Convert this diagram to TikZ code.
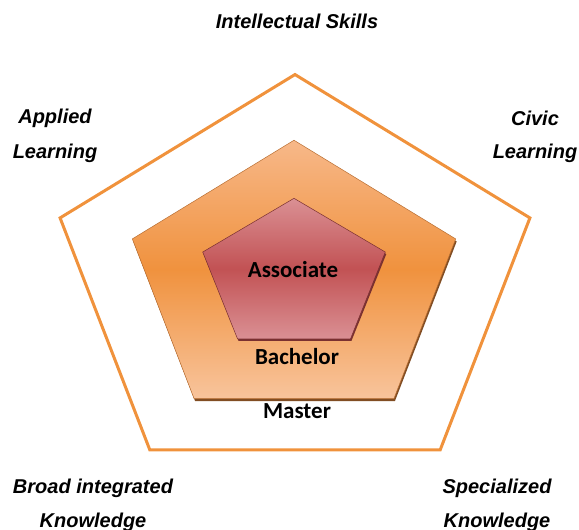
\documentclass[tikz,border=0pt]{standalone}
\usepackage{fontspec}
\newfontfamily\areafont{Liberation Sans}
\newfontfamily\levelfont{Carlito}
\usepackage{tikz}

\definecolor{rimorange}{HTML}{F0923C}
\definecolor{midlight}{HTML}{F7B889}
\definecolor{midorange}{HTML}{F0923E}
\definecolor{midpale}{HTML}{F8C49C}
\definecolor{midedge}{HTML}{B86E32}
\definecolor{innerlight}{HTML}{DA9094}
\definecolor{innerred}{HTML}{C25254}
\definecolor{inneredge}{HTML}{7A3030}

\begin{document}
\begin{tikzpicture}[x=1pt,y=1pt,
    area/.style={font=\areafont\bfseries\itshape\fontsize{20}{20}\selectfont},
    level/.style={font=\levelfont\bfseries\fontsize{23}{23}\selectfont}]
\useasboundingbox (0,0) rectangle (579,530);
% outer pentagon
 \draw[rimorange, line width=3pt, line join=miter, yscale=0.84]  
        (295,295.2) ++(90:247) -- ++(-144:247*1.1756) -- ++(-72:247*1.1756)
        -- ++(0:247*1.1756) -- ++(72:247*1.1756) -- cycle;
% middle pentagon, shadow then fill
 \fill[midedge!70!black, yscale=0.84]  
        (295,291) ++(90:170) -- ++(-144:170*1.1756) -- ++(-72:170*1.1756)
        -- ++(0:170*1.1756) -- ++(72:170*1.1756) -- cycle;
 \shade[top color=midlight, bottom color=midpale, middle color=midorange,
        draw=midedge, line width=0.5pt, yscale=0.84]  
        (294,294) ++(90:170) -- ++(-144:170*1.1756) -- ++(-72:170*1.1756)
        -- ++(0:170*1.1756) -- ++(72:170*1.1756) -- cycle;
% inner pentagon
 \fill[inneredge, yscale=0.81]  
        (295,311) ++(90:96) -- ++(-144:96*1.1756) -- ++(-72:96*1.1756)
        -- ++(0:96*1.1756) -- ++(72:96*1.1756) -- cycle;
 \shade[top color=innerlight, bottom color=innerlight, middle color=innerred,
        draw=inneredge, line width=0.5pt, yscale=0.81]  
        (294,313.5) ++(90:96) -- ++(-144:96*1.1756) -- ++(-72:96*1.1756)
        -- ++(0:96*1.1756) -- ++(72:96*1.1756) -- cycle;
\node[level] (assoc) at (293,260) {Associate};
\node[level] (bach) at (297,173) {Bachelor};
\node[level] (mast) at (297,119) {Master};
\node[area] (intel) at (297,509) {Intellectual Skills};
\node[area] (appl) at (55,412) {Applied};
\node[area] (applb) at (55,377) {Learning};
\node[area] (civ) at (535,412) {Civic};
\node[area] (civb) at (535,377) {Learning};
\node[area] (broad) at (93,42) {Broad integrated};
\node[area] (broadb) at (93,8) {Knowledge};
\node[area] (spec) at (497,42) {Specialized};
\node[area] (specb) at (497,8) {Knowledge};
\end{tikzpicture}
\end{document}
